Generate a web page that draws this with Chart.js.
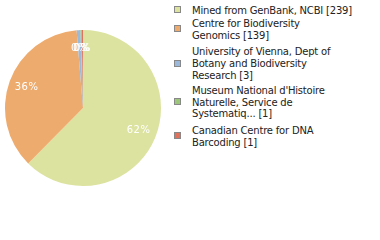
<!DOCTYPE html>
<html>
<head>
<meta charset="utf-8">
<script src="https://cdn.jsdelivr.net/npm/chart.js@4"></script>
<style>
  body { margin: 0; background: #fff; width: 380px; height: 240px; overflow: hidden; position: relative; }
  #pieBox { position: absolute; left: 5px; top: 30px; width: 156px; height: 156px; }
  #legend { position: absolute; left: 174px; top: 5px; width: 206px; font-family: 'DejaVu Sans', sans-serif; font-size: 10px; letter-spacing: -0.2px; color: #222; }
  .item { position: relative; padding-left: 18px; line-height: 11.8px; white-space: nowrap; }
  .item:nth-child(1) { margin-bottom: 1px; }
  .item:nth-child(2) { margin-bottom: 5px; }
  .item:nth-child(3) { margin-bottom: 3px; }
  .item:nth-child(4) { margin-bottom: 5px; }
  .item .box { position: absolute; left: 0; top: 50%; width: 5px; height: 5px; margin-top: -4.5px; border: 1px solid #888; }
</style>
</head>
<body>
<div id="pieBox"><canvas id="pie"></canvas></div>
<div id="legend"></div>
<script>
const sources = ["Mined from GenBank, NCBI", "Centre for Biodiversity Genomics", "University of Vienna, Dept of Botany and Biodiversity Research", "Museum National d'Histoire Naturelle, Service de Systematiq...", "Canadian Centre for DNA Barcoding"];
const legendLines = [
    ["Mined from GenBank, NCBI [239]"],
    ["Centre for Biodiversity", "Genomics [139]"],
    ["University of Vienna, Dept of", "Botany and Biodiversity", "Research [3]"],
    ["Museum National d'Histoire", "Naturelle, Service de", "Systematiq... [1]"],
    ["Canadian Centre for DNA", "Barcoding [1]"]
];
const records = [239, 139, 3, 1, 1];
const colours = ['#dce3a0', '#eeab6e', '#9bb9da', '#9cc679', '#e0715a'];

const total = records.reduce((a, b) => a + b, 0);

// les pourcentages dans les parts
const percentLabels = {
    id: 'percentLabels',
    afterDatasetsDraw(chart) {
        const ctx = chart.ctx;
        const meta = chart.getDatasetMeta(0);
        ctx.save();
        ctx.fillStyle = '#fff';
        ctx.font = '10px "DejaVu Sans", sans-serif';
        ctx.textAlign = 'center';
        ctx.textBaseline = 'middle';
        if ('letterSpacing' in ctx) ctx.letterSpacing = '0.5px';
        meta.data.forEach((arc, i) => {
            const mid = (arc.startAngle + arc.endAngle) / 2;
            const r = arc.outerRadius * 0.77;
            const x = arc.x + Math.cos(mid) * r;
            const y = arc.y + Math.sin(mid) * r;
            ctx.fillText(Math.floor(records[i] / total * 100) + '%', x, y);
        });
        ctx.restore();
    }
};

new Chart(document.getElementById('pie').getContext('2d'), {
    type: 'pie',
    data: {
        labels: sources,
        datasets: [{
            data: records,
            backgroundColor: colours,
            borderWidth: 0
        }]
    },
    options: {
        responsive: true,
        maintainAspectRatio: false,
        animation: false,
        layout: { padding: 0 },
        plugins: {
            legend: { display: false },
            tooltip: { enabled: false }
        }
    },
    plugins: [percentLabels]
});

// légende à droite
const legend = document.getElementById('legend');
legendLines.forEach((lines, i) => {
    const item = document.createElement('div');
    item.className = 'item';
    const box = document.createElement('span');
    box.className = 'box';
    box.style.background = colours[i];
    item.appendChild(box);
    item.insertAdjacentHTML('beforeend', lines.join('<br>'));
    legend.appendChild(item);
});
</script>
</body>
</html>
